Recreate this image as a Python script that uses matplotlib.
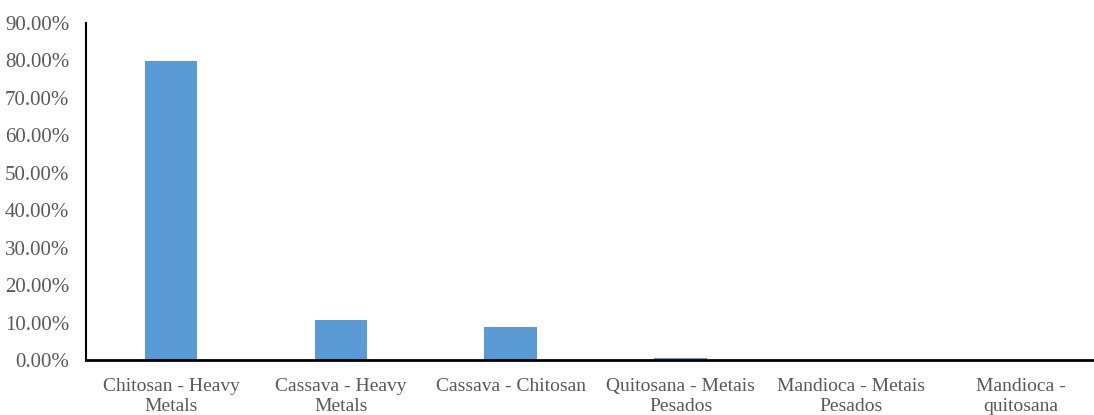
import matplotlib
matplotlib.use("Agg")
import matplotlib.pyplot as plt
import numpy as np
from matplotlib.ticker import FuncFormatter

categories = ["Chitosan - Heavy\nMetals", "Cassava - Heavy\nMetals", "Cassava - Chitosan",
              "Quitosana - Metais\nPesados", "Mandioca - Metais\nPesados", "Mandioca -\nquitosana"]
values = [79.8, 10.8, 8.9, 0.5, 0.0, 0.0]
yticks = np.arange(0, 91, 10)

plt.rcParams['font.family'] = ['Liberation Serif', 'DejaVu Serif']

fig = plt.figure(figsize=(10.94, 4.15), dpi=100)
ax = fig.add_axes([0.0786, 0.1325, 0.932, 0.812])

x = np.arange(len(categories))
ax.bar(x, values, width=0.31, color='#5b9bd5')

ax.set_xlim(-0.5, len(categories) - 0.5)
ax.set_ylim(0, 90)
ax.set_yticks(yticks)
ax.yaxis.set_major_formatter(FuncFormatter(lambda v, p: "%.2f%%" % v))
ax.set_xticks(x)
ax.set_xticklabels(categories, linespacing=1.2)
ax.tick_params(axis='both', length=0, labelsize=14, labelcolor='#595959')
ax.tick_params(axis='y', labelsize=15, pad=12)
ax.tick_params(axis='x', pad=13)

for s in ['top', 'right']:
    ax.spines[s].set_visible(False)
ax.spines['left'].set_linewidth(1.5)
ax.spines['bottom'].set_linewidth(2)

fig.savefig("out.png", dpi=100)
